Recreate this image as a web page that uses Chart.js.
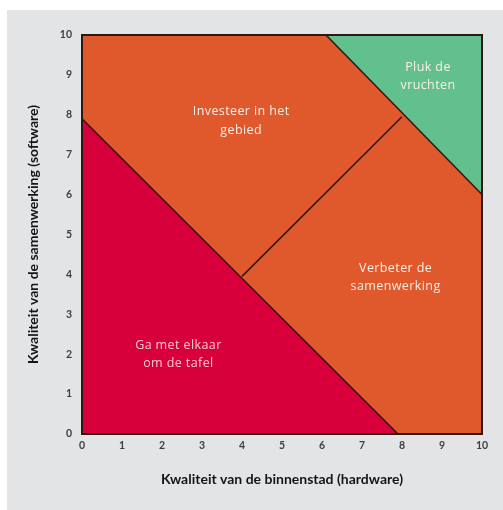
<!DOCTYPE html>
<html>
<head>
<meta charset="utf-8">
<script src="https://cdn.jsdelivr.net/npm/chart.js@4.4.1/dist/chart.umd.min.js"></script>
<style>
  html, body { margin: 0; padding: 0; background: #fff; }
  #wrap { position: relative; width: 503px; height: 510px; overflow: hidden; }
  #paper { position: absolute; left: 7px; top: 10px; right: 0; bottom: 0; background: #e3e4e5; }
  #quadrant { position: absolute; left: 0; top: 0; }
</style>
</head>
<body>
<div id="wrap">
  <div id="paper"></div>
  <canvas id="quadrant" width="503" height="510"></canvas>
</div>
<script>
// Keep the values at top level
const tickValues = [0, 1, 2, 3, 4, 5, 6, 7, 8, 9, 10];

const xTitle = 'Kwaliteit van de binnenstad (hardware)';
const yTitle = 'Kwaliteit van de samenwerking (software)';

// outline of the whole field
const frameX = [0, 0, 10, 10];
const frameY = [0, 10, 10, 0];

// diagonal below which the red zone lies
const redEdgeX = [0, 7.9];
const redEdgeY = [7.9, 0];

// diagonal above which the green zone lies
const greenEdgeX = [6.1, 10];
const greenEdgeY = [10, 6];

// line splitting the two orange zones
const splitX = [4, 8];
const splitY = [3.95, 7.95];

const zoneLabels = [
    ['Investeer in het', 'gebied'],
    ['Pluk de', 'vruchten'],
    ['Verbeter de', 'samenwerking'],
    ['Ga met elkaar', 'om de tafel']
];
const zoneLabelX = [3.98, 8.65, 7.84, 2.41];
const zoneLabelY = [7.84, 8.96, 3.92, 2.0];

const toPoints = (xs, ys) => xs.map((x, i) => ({ x: x, y: ys[i] }));

const lineColor = '#2b1810';

// write the zone names in the middle of each field, and outline the field
const zoneLabelPlugin = {
    id: 'zoneLabels',
    afterDraw(chart) {
        const ctx = chart.ctx;
        const xs = chart.scales.x;
        const ys = chart.scales.y;
        const x0 = xs.getPixelForValue(0);
        const x1 = xs.getPixelForValue(10);
        const y0 = ys.getPixelForValue(0);
        const y1 = ys.getPixelForValue(10);
        ctx.save();
        ctx.beginPath();
        ctx.strokeStyle = lineColor;
        ctx.lineWidth = 2;
        ctx.setLineDash([]);
        ctx.moveTo(x0, y0);
        ctx.lineTo(x0, y1);
        ctx.lineTo(x1, y1);
        ctx.lineTo(x1, y0);
        ctx.closePath();
        ctx.stroke();

        ctx.font = '12.5px "Open Sans", sans-serif';
        ctx.letterSpacing = '0.4px';
        ctx.textAlign = 'center';
        ctx.textBaseline = 'middle';
        zoneLabels.forEach((lines, i) => {
            const cx = xs.getPixelForValue(zoneLabelX[i]);
            const cy = ys.getPixelForValue(zoneLabelY[i]);
            ctx.fillStyle = i === 3 ? '#f6c9d0' : '#fbefe8';
            lines.forEach((txt, j) => {
                ctx.fillText(txt, cx, cy + (j - (lines.length - 1) / 2) * 18.5);
            });
        });
        ctx.restore();
    }
};

const ctx = document.getElementById('quadrant').getContext('2d');
window.myChart = new Chart(ctx, {
    type: 'scatter',
    data: {
        datasets: [
            {
                data: toPoints(frameX, frameY),
                showLine: true,
                borderWidth: 0,
                borderColor: 'rgba(0,0,0,0)',
                backgroundColor: '#e0592c',
                fill: 'origin',
                pointRadius: 0,
                order: 3
            },
            {
                data: toPoints(redEdgeX, redEdgeY),
                showLine: true,
                borderColor: lineColor,
                borderWidth: 1.5,
                backgroundColor: '#d8003a',
                fill: 'origin',
                pointRadius: 0,
                order: 2
            },
            {
                data: toPoints(greenEdgeX, greenEdgeY),
                showLine: true,
                borderColor: lineColor,
                borderWidth: 1.5,
                backgroundColor: '#62bf8e',
                fill: 'end',
                pointRadius: 0,
                order: 2
            },
            {
                data: toPoints(splitX, splitY),
                showLine: true,
                borderColor: lineColor,
                borderWidth: 1.5,
                fill: false,
                pointRadius: 0,
                order: 1
            }
        ]
    },
    options: {
        responsive: false,
        animation: false,
        layout: {
            padding: { left: 0, top: 35, right: 21, bottom: 0 }
        },
        plugins: {
            legend: { display: false },
            tooltip: { enabled: false }
        },
        scales: {
            x: {
                type: 'linear',
                min: 0,
                max: 10,
                afterFit: (scale) => { scale.height = 76; },
                afterBuildTicks: (scale) => { scale.ticks = tickValues.map(v => ({ value: v })); },
                grid: { display: false, drawTicks: false },
                border: { display: true, color: lineColor, width: 2 },
                ticks: {
                    padding: 5,
                    color: '#3f3f3f',
                    font: { family: 'Lato', size: 10.5, weight: 'bold' }
                },
                title: {
                    display: true,
                    text: xTitle,
                    color: '#151515',
                    padding: { top: 14, bottom: 22 },
                    font: { family: 'Lato', size: 14, weight: 'bold' }
                }
            },
            y: {
                type: 'linear',
                min: 0,
                max: 10,
                afterFit: (scale) => { scale.width = 82; },
                afterBuildTicks: (scale) => { scale.ticks = tickValues.map(v => ({ value: v })); },
                grid: { display: false, drawTicks: false },
                border: { display: true, color: lineColor, width: 2 },
                ticks: {
                    padding: 10,
                    color: '#3f3f3f',
                    font: { family: 'Lato', size: 10.5, weight: 'bold' }
                },
                title: {
                    display: true,
                    text: yTitle,
                    color: '#151515',
                    padding: { top: 25, bottom: 0 },
                    font: { family: 'Lato', size: 14, weight: 'bold' }
                }
            }
        }
    },
    plugins: [zoneLabelPlugin]
});
</script>
</body>
</html>
